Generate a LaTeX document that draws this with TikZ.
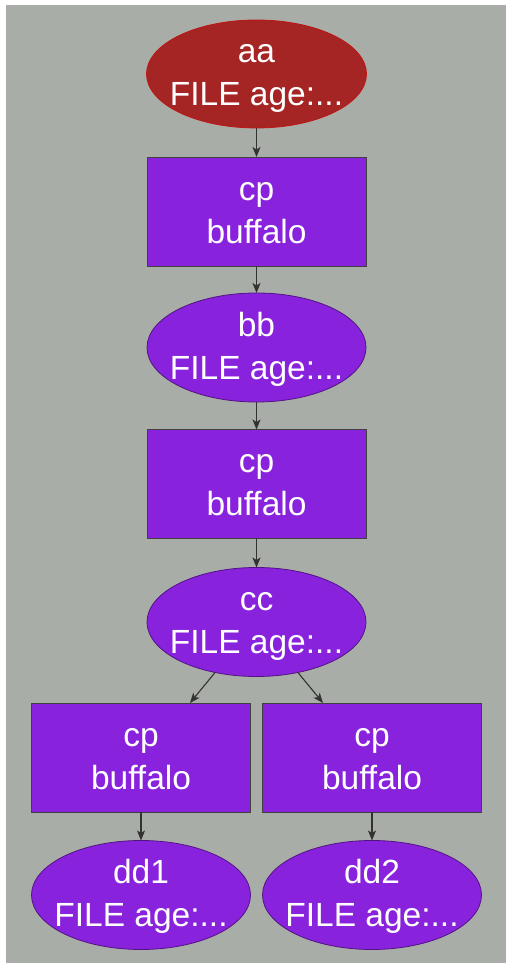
\documentclass[tikz,border=0pt]{standalone}
\usepackage{fontspec}
\setmainfont{Liberation Sans}
\usetikzlibrary{shapes.geometric,arrows.meta,calc}
\definecolor{bg}{RGB}{169,173,167}
\definecolor{vio}{RGB}{137,34,221}
\definecolor{redfill}{RGB}{165,37,37}
\definecolor{redline}{RGB}{190,20,20}
\definecolor{edgecol}{RGB}{50,50,50}
\tikzset{
  shapebase/.style={inner sep=0pt, outer sep=0pt, line width=0.8pt},
  fileell/.style={shapebase, ellipse, minimum width=219pt, minimum height=109pt, fill=vio, draw=vio!60!black},
  rootell/.style={shapebase, ellipse, minimum width=220pt, minimum height=108pt, fill=redfill, draw=redline},
  cpbox/.style={shapebase, rectangle, minimum width=219pt, minimum height=109pt, fill=vio, draw=black!75},
  txt/.style={anchor=base, inner sep=0pt, text=white, font=\fontsize{33.5}{40}\selectfont},
  edge/.style={draw=edgecol, line width=1.1pt, -{Stealth[length=10pt,width=8pt,inset=2.5pt]}}
}
\newcommand\twolines[3]{%
  \node[txt] (#1-l1) at ([yshift=11pt]#1.center) {#2};
  \node[txt] (#1-l2) at ([yshift=-32pt]#1.center) {#3};
}
\begin{document}
\begin{tikzpicture}[x=1pt,y=1pt]
\fill[white] (0,0) rectangle (506,963);
\useasboundingbox (0,0) rectangle (506,963);
\fill[bg] (6,0) rectangle (506,958);

\node[rootell] (aa) at (256.5,889) {};
\node[cpbox] (box1) at (256.5,751.5) {};
\node[fileell] (bb) at (256.5,615.5) {};
\node[cpbox] (box2) at (256.5,479) {};
\node[fileell] (cc) at (256.5,341) {};
\node[cpbox] (box3) at (141,205.5) {};
\node[cpbox] (box4) at (372,205.5) {};
\node[fileell] (dd1) at (141,68) {};
\node[fileell] (dd2) at (372,68) {};

\twolines{aa}{aa}{FILE age:...}
\twolines{box1}{cp}{buffalo}
\twolines{bb}{bb}{FILE age:...}
\twolines{box2}{cp}{buffalo}
\twolines{cc}{cc}{FILE age:...}
\twolines{box3}{cp}{buffalo}
\twolines{box4}{cp}{buffalo}
\twolines{dd1}{dd1}{FILE age:...}
\twolines{dd2}{dd2}{FILE age:...}

\coordinate (t3) at ([xshift=49pt]box3.north);
\coordinate (t4) at ([xshift=-49pt]box4.north);

\draw[edge] (aa) -- (box1);
\draw[edge] (box1) -- (bb);
\draw[edge] (bb) -- (box2);
\draw[edge] (box2) -- (cc);
\draw[edge] (cc) -- (t3);
\draw[edge] (cc) -- (t4);
\draw[edge] (box3) -- (dd1);
\draw[edge] (box4) -- (dd2);
\end{tikzpicture}
\end{document}
